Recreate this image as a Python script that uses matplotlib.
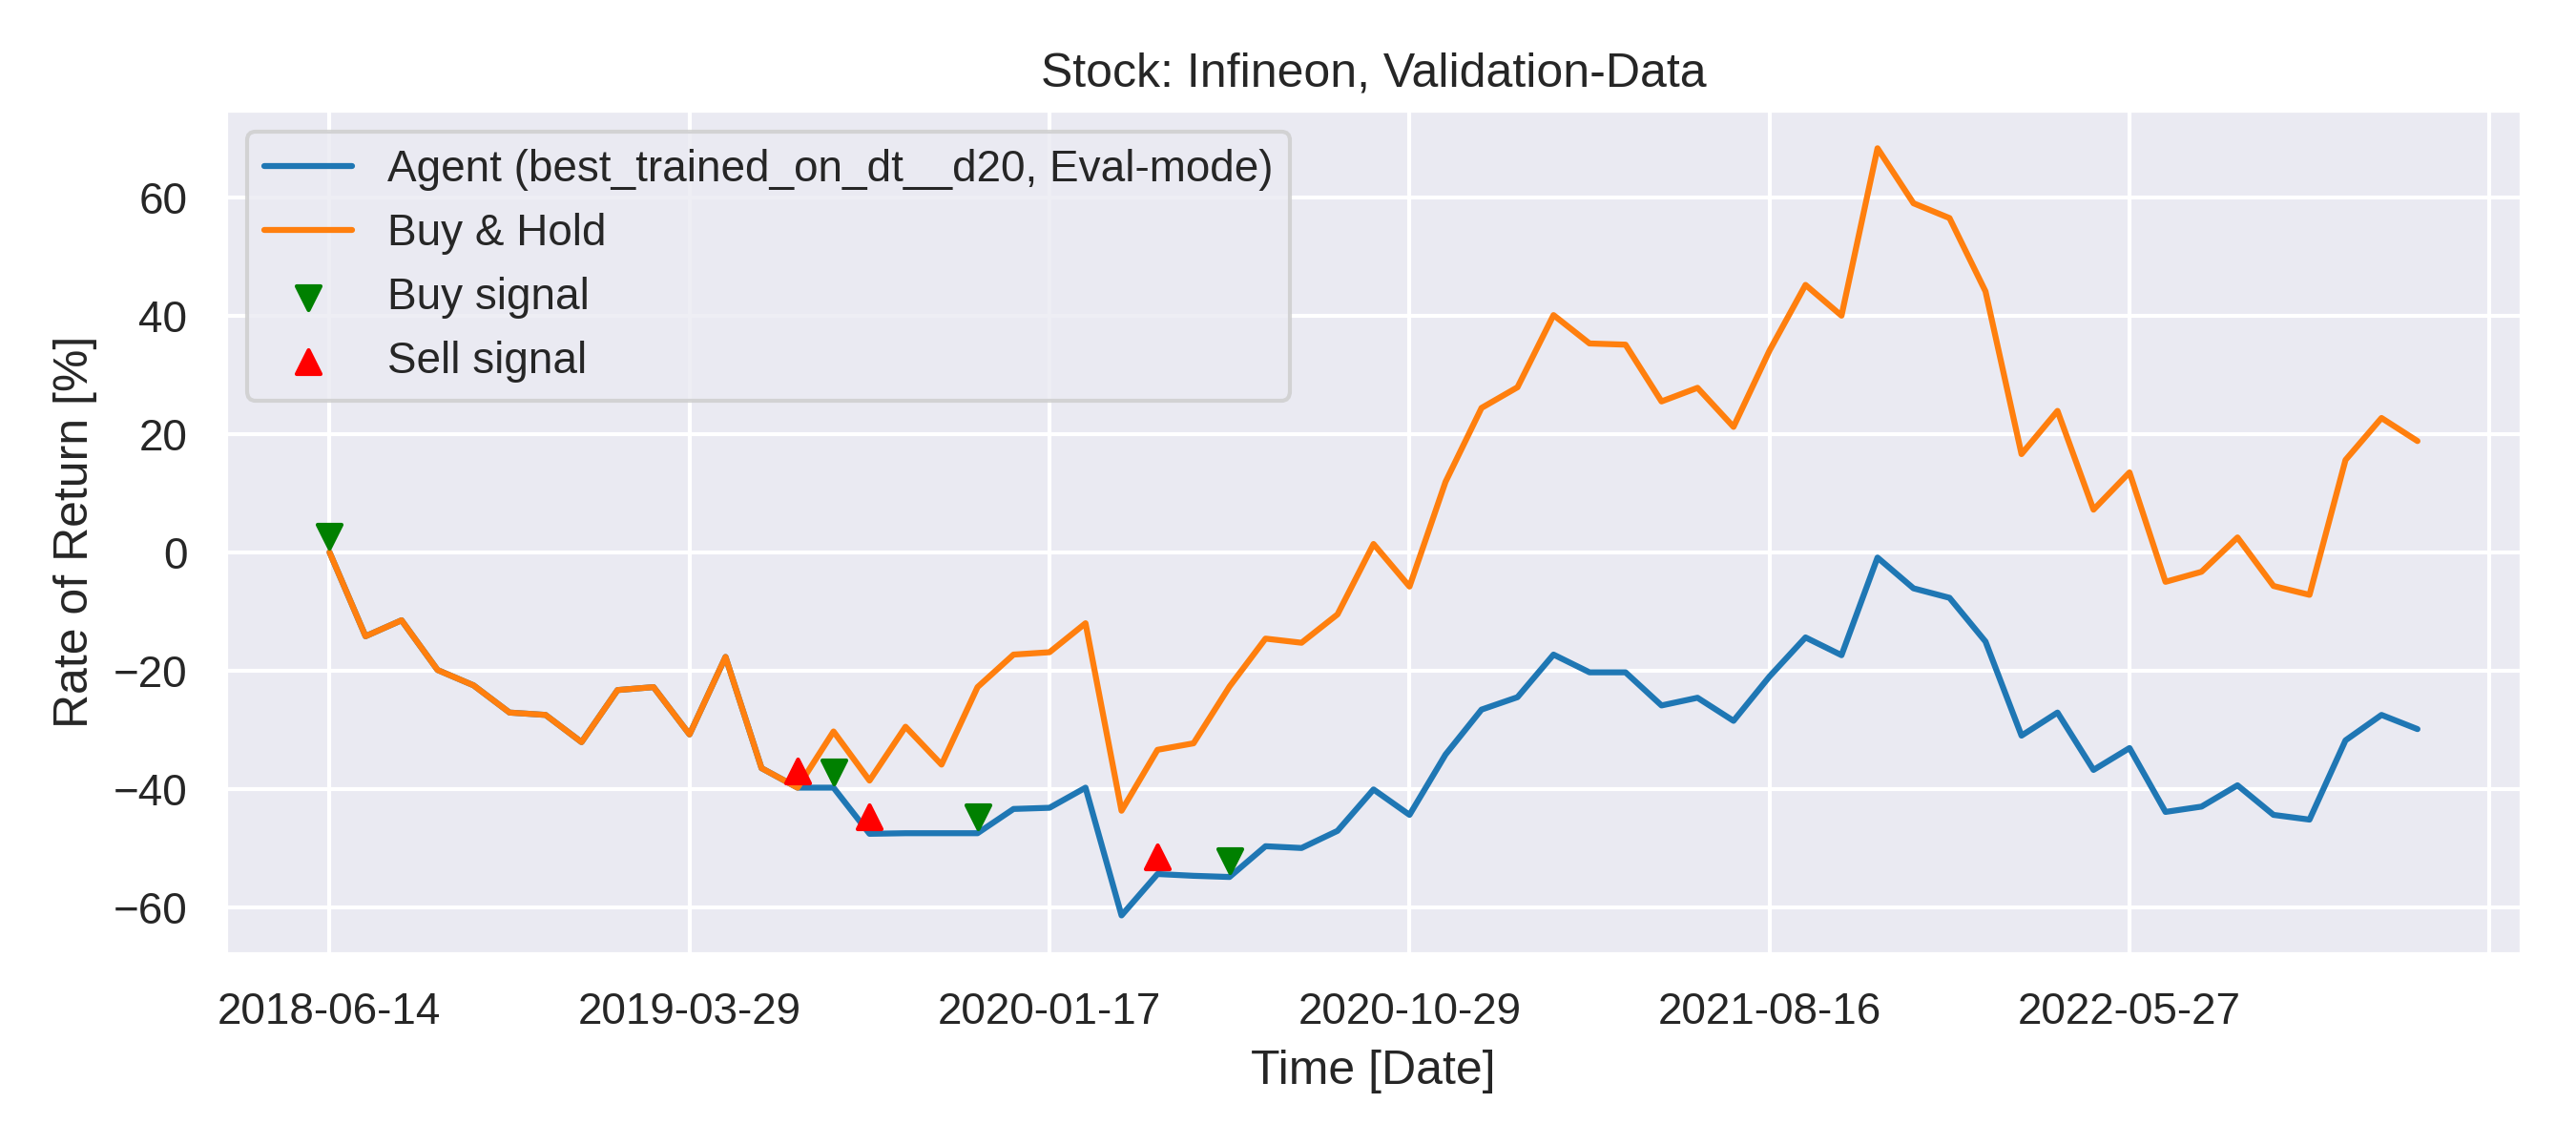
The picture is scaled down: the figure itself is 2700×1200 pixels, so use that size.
import matplotlib

matplotlib.use("Agg")

import matplotlib.pyplot as plt
import numpy as np
import seaborn as sns

# rate of return in %, one point per ~20 trading days
buy_and_hold = [
    0.0, -14.2, -11.5, -19.9, -22.5, -27.1, -27.5, -32.1, -23.3, -22.8,
    -30.8, -17.7, -36.5, -39.8, -30.3, -38.6, -29.5, -35.9, -22.8, -17.3,
    -16.9, -12.0, -43.7, -33.4, -32.3, -22.7, -14.6, -15.3, -10.5, 1.4,
    -5.8, 11.9, 24.4, 27.9, 40.1, 35.3, 35.1, 25.5, 27.8, 21.2,
    34.1, 45.2, 40.0, 68.3, 59.0, 56.5, 44.1, 16.6, 23.9, 7.2,
    13.5, -5.0, -3.3, 2.5, -5.7, -7.2, 15.6, 22.7, 18.8,
]
agent = [
    0.0, -14.2, -11.5, -19.9, -22.5, -27.1, -27.5, -32.1, -23.3, -22.8,
    -30.8, -17.7, -36.5, -39.8, -39.8, -47.6, -47.5, -47.5, -47.5, -43.4,
    -43.2, -39.8, -61.4, -54.4, -54.7, -54.9, -49.7, -50.0, -47.1, -40.1,
    -44.4, -34.2, -26.6, -24.5, -17.3, -20.3, -20.3, -25.9, -24.6, -28.5,
    -21.0, -14.4, -17.4, -0.9, -6.1, -7.7, -15.1, -31.0, -27.1, -36.8,
    -33.1, -43.9, -43.0, -39.4, -44.4, -45.2, -31.8, -27.5, -29.9,
]

buy_idx = [0, 14, 18, 25]
buy_val = [2.7, -37.1, -44.7, -52.2]
sell_idx = [13, 15, 23]
sell_val = [-37.0, -44.8, -51.5]

tick_pos = [0, 10, 20, 30, 40, 50, 60]
tick_labels = ["2018-06-14", "2019-03-29", "2020-01-17", "2020-10-29",
               "2021-08-16", "2022-05-27", ""]

sns.set_theme(style="darkgrid")
plt.rcParams["font.family"] = ["Liberation Sans", "DejaVu Sans"]

steps = np.arange(len(buy_and_hold))

fig, ax = plt.subplots(figsize=(9, 4), dpi=300)
ax.plot(steps, agent, color="#1f77b4",
        label="Agent (best_trained_on_dt__d20, Eval-mode)")
ax.plot(steps, buy_and_hold, color="#ff7f0e", label="Buy & Hold")
ax.scatter(buy_idx, buy_val, marker="v", color="green", label="Buy signal", zorder=3)
ax.scatter(sell_idx, sell_val, marker="^", color="red", label="Sell signal", zorder=3)

ax.set_xticks(tick_pos)
ax.set_xticklabels(tick_labels)
ax.set_title("Stock: Infineon, Validation-Data")
ax.set_xlabel("Time [Date]")
ax.set_ylabel("Rate of Return [%]")
ax.legend(loc="upper left")

fig.subplots_adjust(left=0.0874, right=0.979, bottom=0.167, top=0.904)
fig.savefig("out.png", dpi=300)
